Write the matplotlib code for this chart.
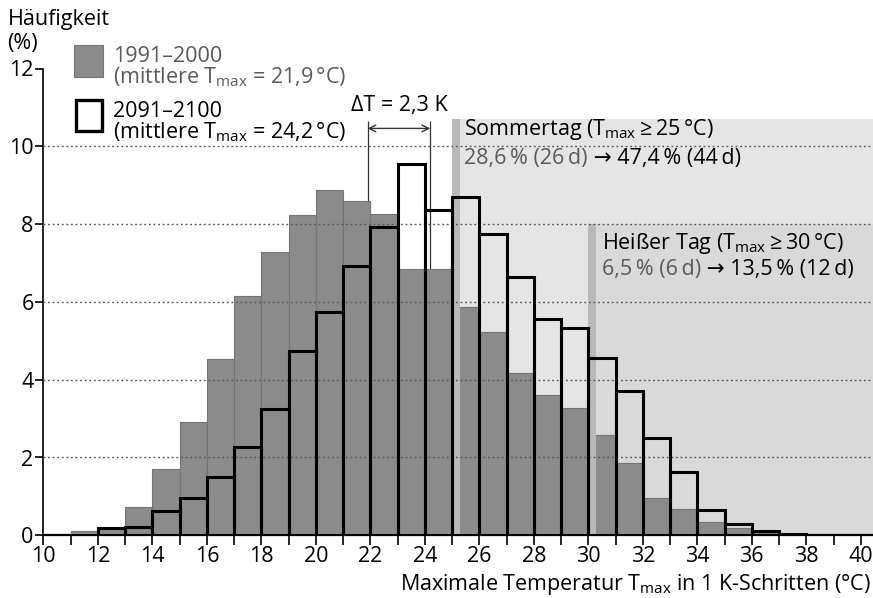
import matplotlib
matplotlib.use("Agg")
import matplotlib.pyplot as plt
from matplotlib.patches import Rectangle

plt.rcParams['font.family'] = ['Open Sans', 'DejaVu Sans']
plt.rcParams['mathtext.fontset'] = 'custom'
plt.rcParams['mathtext.rm'] = 'Open Sans'
plt.rcParams['mathtext.it'] = 'Open Sans'
plt.rcParams['mathtext.default'] = 'rm'

# Tmax bins in 1 K steps (left edge of each bin)
bins = list(range(11, 38))

# 1991-2000 frequency (%)
freq_past = [0.10, 0.15, 0.73, 1.71, 2.91, 4.54, 6.16, 7.27, 8.24, 8.88,
             8.59, 8.27, 6.85, 6.85, 5.87, 5.23, 4.16, 3.60, 3.28, 2.59,
             1.87, 0.97, 0.67, 0.33, 0.20, 0.06, 0.00]

# 2091-2100 frequency (%)
freq_future = [0.00, 0.18, 0.21, 0.63, 0.95, 1.49, 2.26, 3.24, 4.75, 5.74,
               6.92, 7.92, 9.55, 8.35, 8.70, 7.74, 6.65, 5.55, 5.33, 4.57,
               3.71, 2.50, 1.64, 0.65, 0.30, 0.12, 0.04]

mean_past = 21.9
mean_future = 24.2
thr_summer = 25
thr_hot = 30

fs = 15.5
gray_txt = '#5a5a5a'
ts = '\u2009'  # thin space

fig = plt.figure(figsize=(8.73, 5.98), dpi=100)
ax = fig.add_axes([43.3 / 873, 62.7 / 598, 829.7 / 873, 466.8 / 598])
xmax = 10 + 829.7 / 27.25
ax.set_xlim(10, xmax)
ax.set_ylim(0, 12)

# shaded threshold regions
ax.add_patch(Rectangle((thr_summer, 0), xmax - thr_summer, 10.7, color='#e5e5e5', lw=0, zorder=1))
ax.add_patch(Rectangle((thr_hot, 0), xmax - thr_hot, 8.0, color='#d9d9d9', lw=0, zorder=1.2))
ax.add_patch(Rectangle((thr_summer, 0), 0.3, 10.7, color='#b9b9b9', lw=0, zorder=4))
ax.add_patch(Rectangle((thr_hot, 0), 0.28, 8.0, color='#b9b9b9', lw=0, zorder=4))

# delta T markers
ax.vlines([mean_past, mean_future], 0, 10.65, color='#333333', lw=0.9, zorder=2)
ax.annotate('', xy=(mean_past, 10.46), xytext=(mean_future, 10.46),
            arrowprops=dict(arrowstyle='<->', lw=1.0, color='#333333',
                            shrinkA=0, shrinkB=0, mutation_scale=12), zorder=6)
ax.text((mean_past + mean_future) / 2, 11.04, 'ΔT = 2,3 K', ha='center', va='center',
        fontsize=fs, zorder=6)

# bars
ax.bar(bins, freq_past, width=1, align='edge', color='#8b8b8b', edgecolor='#747474',
       lw=0.8, zorder=3)
for y in [2, 4, 6, 8, 10]:
    ax.axhline(y, color='#555555', lw=1.0, ls=(0, (1.3, 2.0)), zorder=4.5)
ax.bar(bins, freq_future, width=1, align='edge', fill=False, edgecolor='black',
       lw=2.2, zorder=5)

# axes styling
for s in ['top', 'right']:
    ax.spines[s].set_visible(False)
ax.spines['left'].set_linewidth(1.2)
ax.spines['bottom'].set_linewidth(1.6)
ax.set_yticks(range(0, 13, 2))
ax.set_xticks(range(10, 41, 2))
ax.set_xticks(range(11, 41, 2), minor=True)
ax.tick_params(axis='y', direction='out', length=6, width=1.2, labelsize=fs, pad=1)
ax.tick_params(axis='x', which='both', direction='out', length=7, width=1.2,
               labelsize=fs, pad=1)

# threshold texts
ax.text(25.45, 10.3, r'Sommertag (T$_{max}\geq$25$\,$°C)', fontsize=fs, va='baseline', zorder=6)
t1 = ax.text(25.45, 9.55, f'28,6{ts}% (26{ts}d)', fontsize=fs, color=gray_txt, va='baseline',
             zorder=6)
ax.annotate(f' → 47,4{ts}% (44{ts}d)', xy=(1, 0), xycoords=t1, va='bottom', fontsize=fs,
            zorder=6)
ax.text(30.5, 7.35, r'Heißer Tag (T$_{max}\geq$30$\,$°C)', fontsize=fs, va='baseline', zorder=6)
t2 = ax.text(30.5, 6.7, f'6,5{ts}% (6{ts}d)', fontsize=fs, color=gray_txt, va='baseline',
             zorder=6)
ax.annotate(f' → 13,5{ts}% (12{ts}d)', xy=(1, 0), xycoords=t2, va='bottom', fontsize=fs,
            zorder=6)

# legend and y label (figure pixel positions)
def fx(px):
    return px / 873

def fy(py):
    return 1 - py / 598

fig.text(fx(8), fy(25.5), 'Häufigkeit', fontsize=fs, va='baseline')
fig.text(fx(7), fy(49), '(%)', fontsize=fs, va='baseline')

fig.patches.append(Rectangle((fx(74), fy(77)), fx(28.7), 32 / 598, transform=fig.transFigure,
                             facecolor='#8b8b8b', edgecolor='#747474', lw=0.8))
fig.patches.append(Rectangle((fx(75.5), fy(131)), fx(26), 30.5 / 598, transform=fig.transFigure,
                             facecolor='white', edgecolor='black', lw=2.4))
fig.text(fx(113), fy(61.7), '1991–2000', fontsize=fs, color=gray_txt, va='baseline')
fig.text(fx(113), fy(83.5), r'(mittlere T$_{max}$ = 21,9$\,$°C)', fontsize=fs, color=gray_txt,
         va='baseline')
fig.text(fx(113), fy(116.7), '2091–2100', fontsize=fs, va='baseline')
fig.text(fx(113), fy(138.5), r'(mittlere T$_{max}$ = 24,2$\,$°C)', fontsize=fs, va='baseline')

fig.text(fx(871), fy(590), r'Maximale Temperatur T$_{max}$ in 1 K-Schritten (°C)',
         fontsize=fs, ha='right', va='baseline')

fig.savefig('out.png', dpi=100)
